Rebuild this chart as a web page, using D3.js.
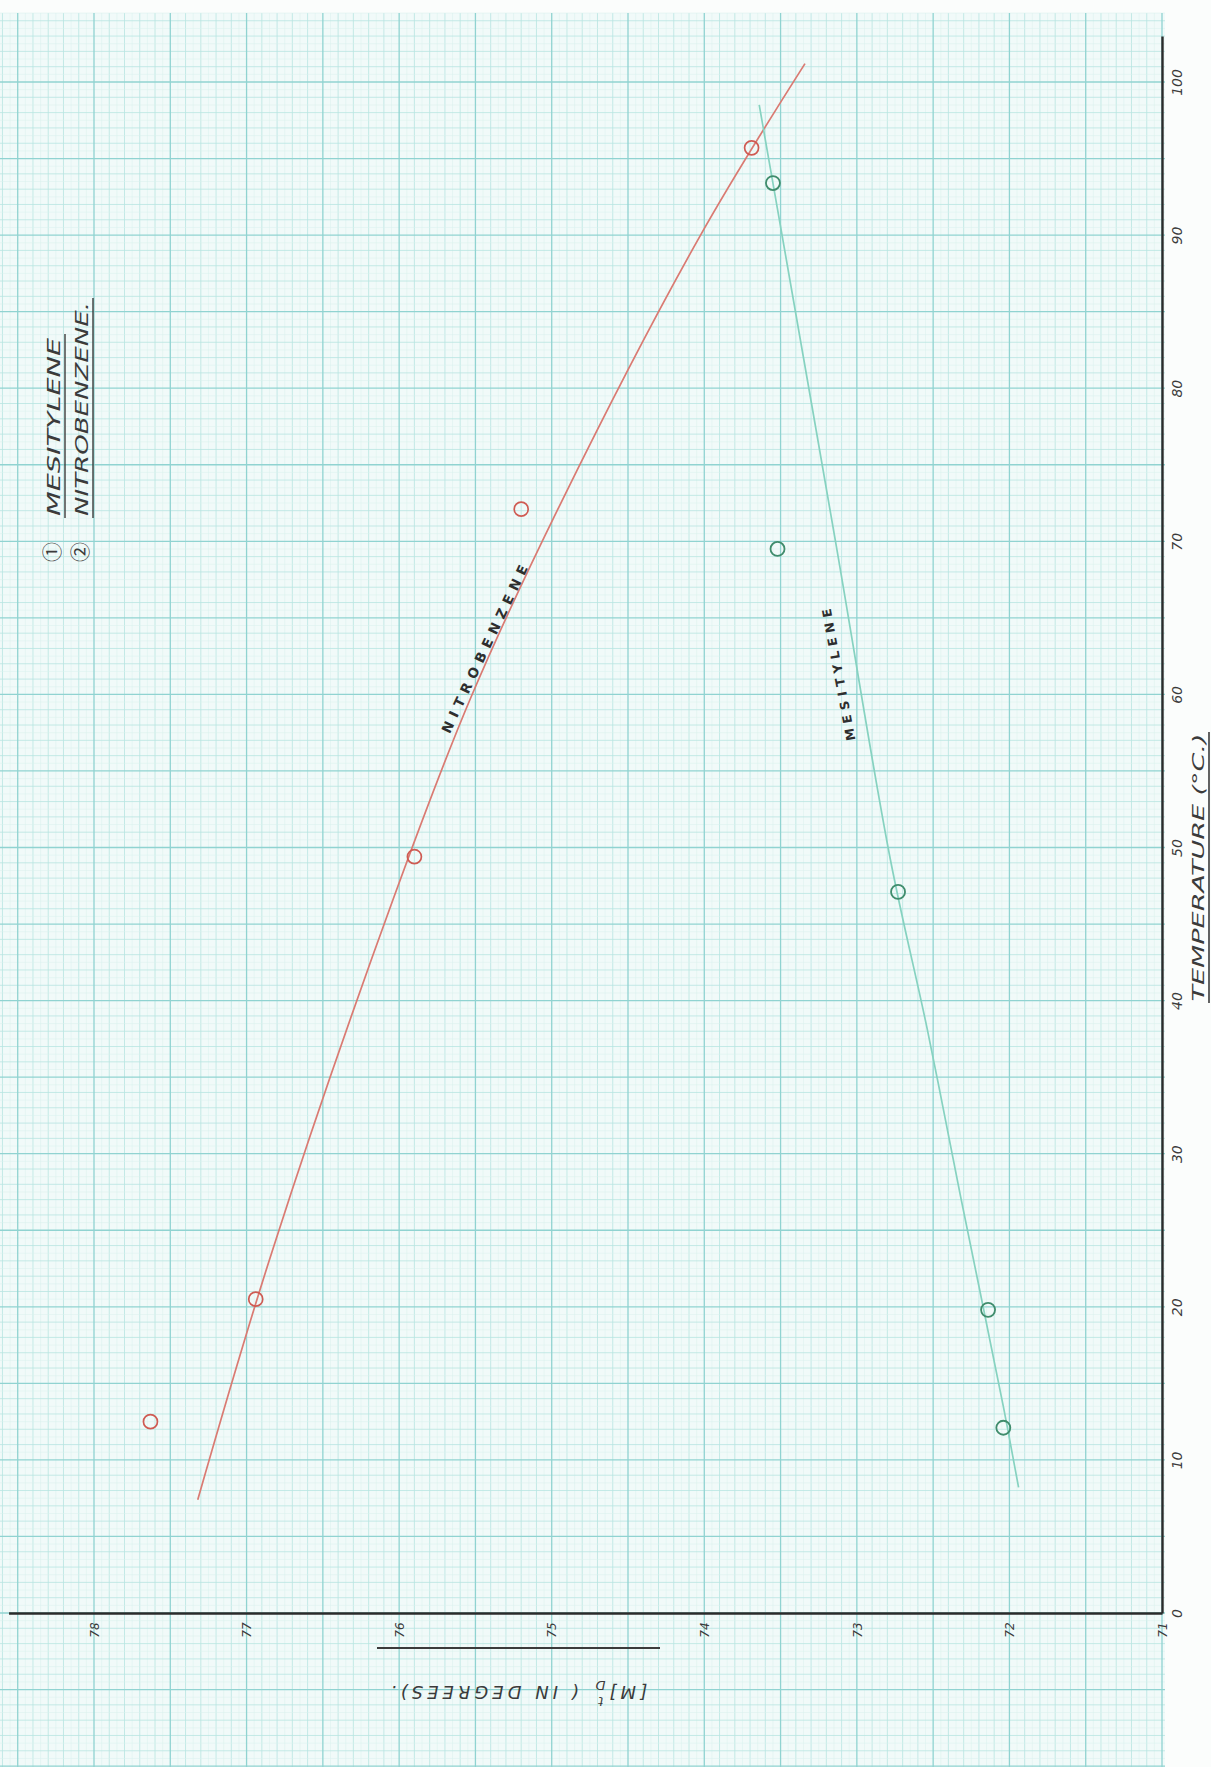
<!DOCTYPE html>
<html>
<head>
<meta charset="utf-8">
<script src="https://cdn.jsdelivr.net/npm/d3@7"></script>
<style>
  body { margin: 0; background: #fbfdfc; }
  svg { display: block; }
</style>
</head>
<body>
<div id="chart"></div>
<script>
// readings off the sheet: temperature (°C) and rotation [M] (degrees)
const nitroTemp = [12.5, 20.5, 49.4, 72.1, 95.7];
const nitroRot  = [77.63, 76.94, 75.90, 75.20, 73.69];
const mesiTemp  = [12.1, 19.8, 47.1, 69.5, 93.4];
const mesiRot   = [72.04, 72.14, 72.73, 73.52, 73.55];

// the hand drawn curves
const nitroCurveTemp = [7.4, 23.7, 46.6, 59.8, 72.5, 89.9, 101.2];
const nitroCurveRot  = [77.32, 76.83, 76.04, 75.53, 74.94, 74.03, 73.34];
const mesiCurveTemp  = [8.2, 13.5, 27.2, 38.2, 49.2, 70.0, 93.4, 98.5];
const mesiCurveRot   = [71.94, 72.04, 72.32, 72.54, 72.78, 73.14, 73.55, 73.64];

const tempTicks = [0, 10, 20, 30, 40, 50, 60, 70, 80, 90, 100];
const rotTicks  = [71, 72, 73, 74, 75, 76, 77, 78];

const W = 1211, H = 1767;
const ink = "#3b3b3b";
const hand = "'DejaVu Sans', sans-serif";

const svg = d3.select("#chart").append("svg")
    .attr("width", W)
    .attr("height", H);

// the sheet is turned: temperature runs up the page, rotation runs to the left
const t = d3.scaleLinear().domain([0, 100]).range([1613, 82]);
const m = d3.scaleLinear().domain([71, 78]).range([1162, 94]);

// paper
const paperTop = 13, paperRight = 1165;
svg.append("rect").attr("width", W).attr("height", H).attr("fill", "#fbfdfc");
svg.append("rect")
    .attr("x", 0).attr("y", paperTop)
    .attr("width", paperRight).attr("height", H - paperTop)
    .attr("fill", "#f1faf9");

// graph paper rulings: 0.05 deg and 0.5 °C steps, heavy every 0.5 deg / 5 °C
const grid = svg.append("g");
const vSteps = d3.range(0, 153).map(k => ({k: k, v: 71 + k * 0.05}));
const hSteps = d3.range(-21, 210).map(k => ({k: k, v: k * 0.5}));
function gridStroke(k) { return k % 10 === 0 ? "#90d3d1" : (k % 2 === 0 ? "#b8e4e1" : "#d9f0ed"); }
function gridWidth(k) { return k % 10 === 0 ? 1.3 : (k % 2 === 0 ? 0.8 : 0.5); }

[0, 1].forEach(level => {
  const sel = d => level ? d.k % 10 === 0 : d.k % 10 !== 0;
  grid.append("g").selectAll("line")
    .data(vSteps.filter(sel).filter(d => m(d.v) >= 0 && m(d.v) <= paperRight))
    .join("line")
    .attr("x1", d => m(d.v)).attr("x2", d => m(d.v))
    .attr("y1", paperTop).attr("y2", H)
    .attr("stroke", d => gridStroke(d.k))
    .attr("stroke-width", d => gridWidth(d.k));
  grid.append("g").selectAll("line")
    .data(hSteps.filter(sel).filter(d => t(d.v) >= paperTop && t(d.v) <= H))
    .join("line")
    .attr("x1", 0).attr("x2", paperRight)
    .attr("y1", d => t(d.v)).attr("y2", d => t(d.v))
    .attr("stroke", d => gridStroke(d.k))
    .attr("stroke-width", d => gridWidth(d.k));
});

// temperature axis, on the right
const tAxisScale = t.copy().domain([0, 103]).range([t(0), t(103)]);
const tAxis = svg.append("g")
    .attr("transform", `translate(${m(71)},0)`)
    .call(d3.axisRight(tAxisScale).tickValues(tempTicks).tickSize(0).tickSizeOuter(0));
tAxis.select(".domain").attr("stroke", "#2b2b2b").attr("stroke-width", 2.4);
tAxis.selectAll(".tick text")
    .attr("transform", "rotate(-90)")
    .attr("x", 0).attr("y", 20).attr("dy", null)
    .attr("text-anchor", "middle")
    .attr("fill", ink)
    .style("font-family", hand).style("font-style", "italic").style("font-size", "14px");

// rotation axis, along the bottom
const mAxisScale = m.copy().domain([71, 78.56]).range([m(71), m(78.56)]);
const mAxis = svg.append("g")
    .attr("transform", `translate(0,${t(0)})`)
    .call(d3.axisBottom(mAxisScale).tickValues(rotTicks).tickSize(0).tickSizeOuter(0));
mAxis.select(".domain").attr("stroke", "#2b2b2b").attr("stroke-width", 2.4);
mAxis.selectAll(".tick text")
    .attr("transform", "rotate(-90)")
    .attr("x", -17).attr("y", 0).attr("dy", "0.35em")
    .attr("text-anchor", "middle")
    .attr("fill", ink)
    .style("font-family", hand).style("font-style", "italic").style("font-size", "12px");

// curves
const line = d3.line()
    .x(d => m(d[1]))
    .y(d => t(d[0]))
    .curve(d3.curveCatmullRom);

svg.append("path")
    .datum(d3.zip(nitroCurveTemp, nitroCurveRot))
    .attr("d", line)
    .attr("fill", "none")
    .attr("stroke", "#da7a72")
    .attr("stroke-width", 1.7);

svg.append("path")
    .datum(d3.zip(mesiCurveTemp, mesiCurveRot))
    .attr("d", line)
    .attr("fill", "none")
    .attr("stroke", "#86d2c0")
    .attr("stroke-width", 1.7);

// observed points
svg.append("g").selectAll("circle")
    .data(d3.zip(nitroTemp, nitroRot))
    .join("circle")
    .attr("cx", d => m(d[1])).attr("cy", d => t(d[0]))
    .attr("r", 7)
    .attr("fill", "none")
    .attr("stroke", "#cf5a52")
    .attr("stroke-width", 1.7);

svg.append("g").selectAll("circle")
    .data(d3.zip(mesiTemp, mesiRot))
    .join("circle")
    .attr("cx", d => m(d[1])).attr("cy", d => t(d[0]))
    .attr("r", 7)
    .attr("fill", "none")
    .attr("stroke", "#3f8c6c")
    .attr("stroke-width", 1.8);

// curve names
svg.append("text")
    .attr("transform", "translate(489,651) rotate(-64.7)")
    .attr("text-anchor", "middle")
    .attr("textLength", 184).attr("lengthAdjust", "spacing")
    .attr("fill", "#2e2e2e")
    .style("font-family", hand).style("font-weight", "bold").style("font-size", "13.5px")
    .text("NITROBENZENE");

svg.append("text")
    .attr("transform", "translate(843,674) rotate(-100.7)")
    .attr("text-anchor", "middle")
    .attr("textLength", 134).attr("lengthAdjust", "spacing")
    .attr("fill", "#2e2e2e")
    .style("font-family", hand).style("font-weight", "bold").style("font-size", "12.5px")
    .text("MESITYLENE");

// legend, top left
const legend = [
  {mark: "\u2460", name: "MESITYLENE", x: 60, len: 178},
  {mark: "\u2461", name: "NITROBENZENE.", x: 88, len: 214}
];
legend.forEach(d => {
  svg.append("text")
    .attr("transform", `translate(${d.x},562) rotate(-90)`)
    .attr("fill", ink)
    .style("font-family", "'Noto Sans CJK JP', 'DejaVu Sans', sans-serif").style("font-size", "20px")
    .text(d.mark);
  svg.append("text")
    .attr("transform", `translate(${d.x},516) rotate(-90)`)
    .attr("textLength", d.len).attr("lengthAdjust", "spacingAndGlyphs")
    .attr("fill", ink)
    .style("font-family", hand).style("font-style", "italic").style("font-size", "17px")
    .text(d.name);
  svg.append("line")
    .attr("x1", d.x + 5).attr("x2", d.x + 5)
    .attr("y1", 518).attr("y2", 516 - d.len - 4)
    .attr("stroke", ink).attr("stroke-width", 1.4);
});

// axis titles
svg.append("text")
    .attr("transform", `translate(1204,${(1003 + 732) / 2}) rotate(-90)`)
    .attr("text-anchor", "middle")
    .attr("textLength", 268).attr("lengthAdjust", "spacingAndGlyphs")
    .attr("fill", ink)
    .style("font-family", hand).style("font-style", "italic").style("font-size", "16px")
    .text("TEMPERATURE (°C.)");
svg.append("line")
    .attr("x1", 1209).attr("x2", 1209)
    .attr("y1", 1003).attr("y2", 732)
    .attr("stroke", ink).attr("stroke-width", 1.6);

const yTitle = svg.append("text")
    .attr("transform", "translate(517,1686) rotate(180)")
    .attr("text-anchor", "middle")
    .attr("fill", ink)
    .style("font-family", hand).style("font-style", "italic").style("font-size", "18px")
    .style("letter-spacing", "4px");
yTitle.append("tspan").text("[M]");
yTitle.append("tspan").attr("dy", 5).style("font-size", "13px").text("D");
yTitle.append("tspan").attr("dx", -12).attr("dy", -16).style("font-size", "13px").text("t");
yTitle.append("tspan").attr("dy", 11).attr("dx", 6).text(" ( IN DEGREES).");
svg.append("line")
    .attr("x1", 377).attr("x2", 660)
    .attr("y1", 1648).attr("y2", 1648)
    .attr("stroke", ink).attr("stroke-width", 1.8);
</script>
</body>
</html>
